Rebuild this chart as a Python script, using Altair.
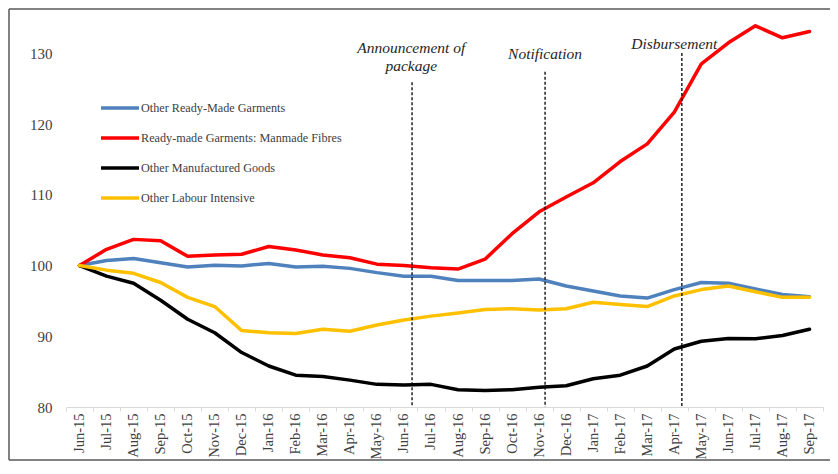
import altair as alt
import pandas as pd

months = ["Jun-15","Jul-15","Aug-15","Sep-15","Oct-15","Nov-15","Dec-15","Jan-16","Feb-16",
          "Mar-16","Apr-16","May-16","Jun-16","Jul-16","Aug-16","Sep-16","Oct-16","Nov-16",
          "Dec-16","Jan-17","Feb-17","Mar-17","Apr-17","May-17","Jun-17","Jul-17","Aug-17","Sep-17"]

series_names = ["Other Ready-Made Garments", "Ready-made Garments: Manmade Fibres",
                "Other Manufactured Goods", "Other Labour Intensive"]
series_colors = ["#4F81BD", "#FF0000", "#000000", "#FFC000"]

blue = [100, 100.7, 101.0, 100.4, 99.8, 100.05, 99.95, 100.3, 99.8, 99.9, 99.6, 99.0, 98.5, 98.5,
        97.9, 97.9, 97.9, 98.1, 97.1, 96.4, 95.7, 95.4, 96.6, 97.6, 97.5, 96.7, 95.9, 95.6]
red = [100, 102.3, 103.7, 103.5, 101.3, 101.5, 101.6, 102.7, 102.2, 101.5, 101.1, 100.2, 100.0, 99.7,
       99.5, 100.9, 104.5, 107.6, 109.7, 111.7, 114.7, 117.2, 121.7, 128.5, 131.5, 133.9, 132.2, 133.1]
black = [100, 98.5, 97.5, 95.1, 92.4, 90.5, 87.7, 85.8, 84.5, 84.3, 83.8, 83.2, 83.1, 83.2,
         82.45, 82.35, 82.45, 82.8, 83.0, 84.0, 84.5, 85.8, 88.2, 89.3, 89.7, 89.65, 90.1, 91.0]
yellow = [100, 99.35, 98.9, 97.6, 95.5, 94.2, 90.8, 90.5, 90.4, 91.0, 90.7, 91.6, 92.3, 92.85,
          93.3, 93.8, 93.9, 93.7, 93.9, 94.8, 94.5, 94.2, 95.7, 96.6, 97.1, 96.3, 95.5, 95.5]

event_labels = ["Announcement of\npackage", "Notification", "Disbursement"]
event_line_x = [12.30, 17.22, 22.28]
event_line_top = [125.9, 127.4, 130.05]
event_text_x = [12.27, 17.22, 22.0]
event_text_y = [130.0, 129.2, 130.6]

y_ticks = [80, 90, 100, 110, 120, 130]

rows = []
for name, vals in zip(series_names, [blue, red, black, yellow]):
    for i, v in enumerate(vals):
        rows.append({"series": name, "idx": i, "value": v})
df = pd.DataFrame(rows)

events_df = pd.DataFrame({"x": event_line_x, "top": event_line_top})
texts_df = pd.DataFrame({"x": event_text_x, "y": event_text_y, "label": event_labels})

W, H = 757, 389
PT, PB, PL, PR = 10, 54, 58, 7
band = W / len(months)

label_arr = "[" + ",".join("'" + m + "'" for m in months) + ",'']"
x_vals = [i - 0.5 for i in range(len(months) + 1)]

xscale = alt.Scale(domain=[-0.5, len(months) - 0.5], nice=False, zero=False)
yscale = alt.Scale(domain=[80, 135], nice=False, zero=False)

serif = "Liberation Serif"
txtcol = "#404040"
framecol = "#595959"

x_axis = alt.Axis(values=x_vals, labelExpr=label_arr + "[round(datum.value + 0.5)]",
                  labelAngle=-90, labelOffset=band / 2, labelFont=serif, labelFontSize=14.5,
                  labelColor=txtcol, labelPadding=2, tickSize=4, tickColor="#d9d9d9",
                  domainColor="#d9d9d9", grid=False, labelFlush=False,
                  labelOverlap=False, labelBound=False, title=None)
y_axis = alt.Axis(values=y_ticks, domain=False, ticks=False, grid=False,
                  labelFont=serif, labelFontSize=15, labelColor=txtcol, labelPadding=14,
                  title=None)

one = pd.DataFrame({"a": [0]})
frame_top = alt.Chart(one).mark_rule(color=framecol, strokeWidth=1.5).encode(
    x=alt.value(-PL + 1), x2=alt.value(W + PR + 10), y=alt.value(-PT + 1))
frame_left = alt.Chart(one).mark_rule(color=framecol, strokeWidth=1.5).encode(
    x=alt.value(-PL + 1), y=alt.value(-PT + 1), y2=alt.value(H + PB - 1))
frame_bottom = alt.Chart(one).mark_rule(color=framecol, strokeWidth=1.5).encode(
    x=alt.value(-PL + 1), x2=alt.value(W + PR + 10), y=alt.value(H + PB - 1))

lines = alt.Chart(df).mark_line(strokeWidth=3.5, strokeJoin="round", strokeCap="round").encode(
    x=alt.X("idx:Q", scale=xscale, title=None, axis=x_axis),
    y=alt.Y("value:Q", scale=yscale, title=None, axis=y_axis),
    color=alt.Color("series:N", sort=series_names,
                    scale=alt.Scale(domain=series_names, range=series_colors),
                    legend=alt.Legend(orient="none", legendX=33, legendY=69, title=None,
                                      symbolType="stroke", symbolSize=1444, symbolStrokeWidth=3.5,
                                      labelFont=serif, labelFontSize=12.2, labelColor=txtcol,
                                      labelLimit=0, rowPadding=2, padding=0, labelOffset=0)),
    order=alt.Order("idx:Q")
)

rules = alt.Chart(events_df).mark_rule(color="#000000", strokeWidth=1.3, strokeDash=[3, 2]).encode(
    x=alt.X("x:Q", scale=xscale, title=None, axis=x_axis),
    y=alt.Y("top:Q", scale=yscale, title=None, axis=y_axis),
    y2=alt.datum(80)
)

texts = alt.Chart(texts_df).mark_text(
    font=serif, fontStyle="italic", fontSize=15.5, align="center", baseline="alphabetic",
    lineBreak="\n", lineHeight=17.5, color="#262626"
).encode(
    x=alt.X("x:Q", scale=xscale, title=None, axis=x_axis),
    y=alt.Y("y:Q", scale=yscale, title=None, axis=y_axis),
    text="label:N"
)

chart = alt.layer(frame_top, frame_left, frame_bottom, lines, rules, texts).properties(
    width=W, height=H,
    autosize=alt.AutoSizeParams(type="none"),
    padding={"left": PL, "right": PR, "top": PT, "bottom": PB}
).configure(background="white").configure_view(strokeWidth=0, stroke="transparent")

chart.save("out.html", embed_options={"renderer": "svg", "actions": False})
